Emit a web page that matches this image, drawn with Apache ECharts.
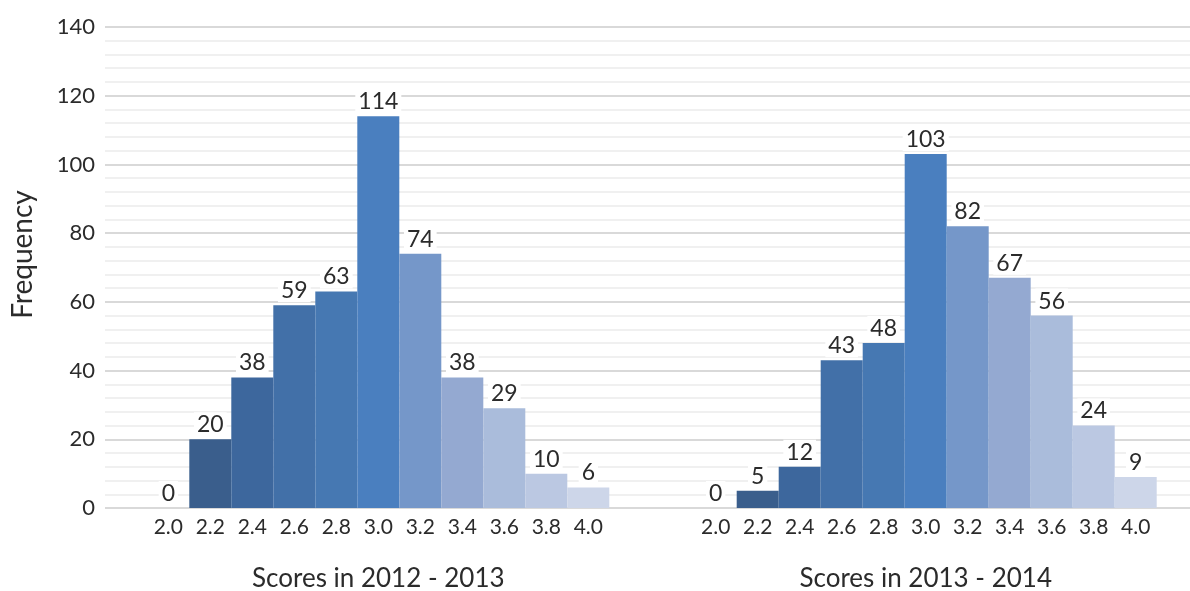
<!DOCTYPE html>
<html>
<head>
<meta charset="utf-8">
<script src="https://cdn.jsdelivr.net/npm/echarts@6/dist/echarts.min.js"></script>
<style>
  html, body { margin: 0; padding: 0; background: #ffffff; }
  #chart { width: 1190px; height: 591px; }
</style>
</head>
<body>
<div id="chart"></div>
<script>
// Score bins shared by both histograms
const scoreBins = ['2.0', '2.2', '2.4', '2.6', '2.8', '3.0', '3.2', '3.4', '3.6', '3.8', '4.0'];
// Frequencies per bin
const freq2012 = [0, 20, 38, 59, 63, 114, 74, 38, 29, 10, 6];
const freq2013 = [0, 5, 12, 43, 48, 103, 82, 67, 56, 24, 9];
// Axis titles
const title2012 = 'Scores in 2012 - 2013';
const title2013 = 'Scores in 2013 - 2014';
const yTitle = 'Frequency';
// Bar shade per bin
const binColors = ['#3a5e8c', '#3a5e8c', '#3d679d', '#4270a8', '#4678b2', '#4a7fbf',
                   '#7597c9', '#94a9d1', '#aabcdb', '#bbc8e2', '#cdd6e9'];

const FONT = 'Lato';
const TXT = '#2b2b2b';
const TOP = 27, BOTTOM = 83;

function barSeries(values, axisIdx) {
  return {
    type: 'bar',
    xAxisIndex: axisIdx,
    yAxisIndex: axisIdx,
    barCategoryGap: 0,
    data: values.map((v, i) => ({ value: v, itemStyle: { color: binColors[i] } })),
    label: {
      show: true,
      position: 'top',
      distance: 3,
      color: TXT,
      fontFamily: FONT,
      fontSize: 23,
      backgroundColor: '#ffffff',
      padding: [1, 3, 0, 3]
    },
    z: 3
  };
}

function catAxis(idx, name) {
  return {
    type: 'category',
    gridIndex: idx,
    data: scoreBins,
    axisLine: { show: false },
    axisTick: { show: false },
    axisLabel: { color: TXT, fontFamily: FONT, fontSize: 21, margin: 9, interval: 0 },
    name: name,
    nameLocation: 'middle',
    nameGap: 58,
    nameTextStyle: { color: TXT, fontFamily: FONT, fontSize: 26 }
  };
}

function hiddenY(idx) {
  return { type: 'value', gridIndex: idx, min: 0, max: 140, interval: 20, show: false };
}

const chart = echarts.init(document.getElementById('chart'), null, { renderer: 'canvas' });
chart.setOption({
  animation: false,
  backgroundColor: '#ffffff',
  grid: [
    { left: 105, right: 0, top: TOP, bottom: BOTTOM, outerBoundsMode: 'none', containLabel: false },
    { left: 147.3, width: 462, top: TOP, bottom: BOTTOM, outerBoundsMode: 'none', containLabel: false },
    { left: 694.7, width: 462, top: TOP, bottom: BOTTOM, outerBoundsMode: 'none', containLabel: false }
  ],
  xAxis: [
    { type: 'value', gridIndex: 0, min: 0, max: 1, show: false },
    catAxis(1, title2012),
    catAxis(2, title2013)
  ],
  yAxis: [
    {
      type: 'value',
      gridIndex: 0,
      min: 0,
      max: 140,
      interval: 20,
      axisLine: { show: false },
      axisTick: { show: false },
      axisLabel: { color: TXT, fontFamily: FONT, fontSize: 22, margin: 10 },
      splitLine: { show: true, lineStyle: { color: '#d9d9d9', width: 2 } },
      minorTick: { show: false, splitNumber: 5 },
      minorSplitLine: { show: true, lineStyle: { color: '#f0f0f0', width: 2 } },
      name: yTitle,
      nameLocation: 'middle',
      nameGap: 68,
      nameTextStyle: { color: TXT, fontFamily: FONT, fontSize: 28, padding: [0, 0, 0, 26] }
    },
    hiddenY(1),
    hiddenY(2)
  ],
  series: [
    { type: 'scatter', xAxisIndex: 0, yAxisIndex: 0, data: [], silent: true },
    barSeries(freq2012, 1),
    barSeries(freq2013, 2)
  ]
});
</script>
</body>
</html>
